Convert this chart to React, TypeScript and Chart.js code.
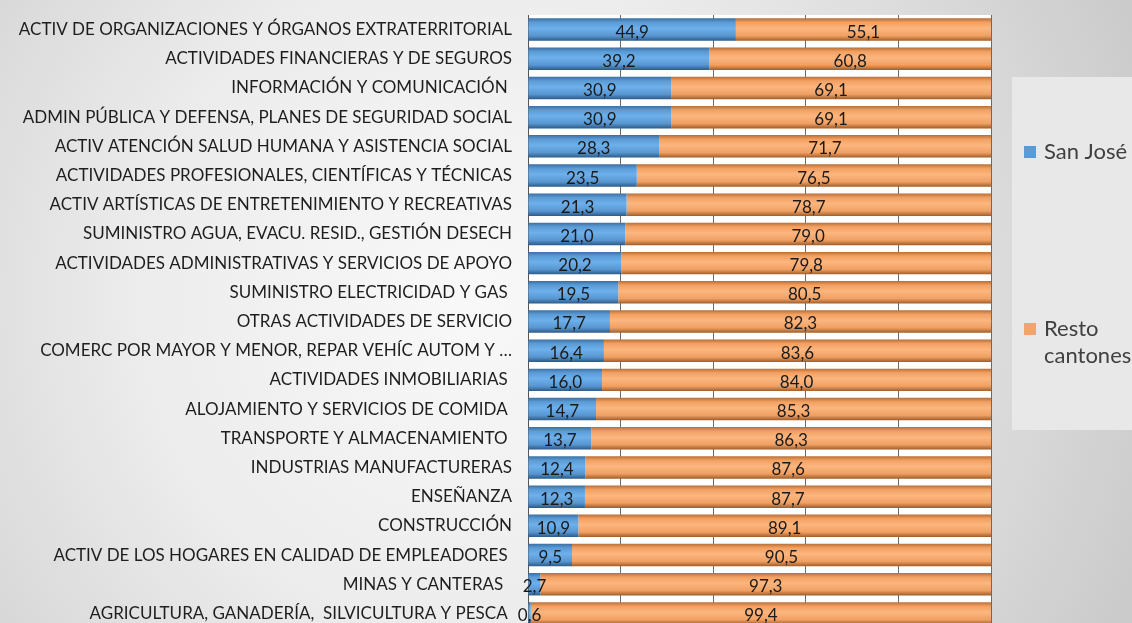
import React, { useEffect, useRef } from 'react';
import { Chart, registerables } from 'chart.js';

Chart.register(...registerables);

const categories = [
  'ACTIV DE ORGANIZACIONES Y ÓRGANOS EXTRATERRITORIAL',
  'ACTIVIDADES FINANCIERAS Y DE SEGUROS',
  'INFORMACIÓN Y COMUNICACIÓN ',
  'ADMIN PÚBLICA Y DEFENSA, PLANES DE SEGURIDAD SOCIAL',
  'ACTIV ATENCIÓN SALUD HUMANA Y ASISTENCIA SOCIAL',
  'ACTIVIDADES PROFESIONALES, CIENTÍFICAS Y TÉCNICAS',
  'ACTIV ARTÍSTICAS DE ENTRETENIMIENTO Y RECREATIVAS',
  'SUMINISTRO AGUA, EVACU. RESID., GESTIÓN DESECH',
  'ACTIVIDADES ADMINISTRATIVAS Y SERVICIOS DE APOYO',
  'SUMINISTRO ELECTRICIDAD Y GAS ',
  'OTRAS ACTIVIDADES DE SERVICIO',
  'COMERC POR MAYOR Y MENOR, REPAR VEHÍC AUTOM Y …',
  'ACTIVIDADES INMOBILIARIAS ',
  'ALOJAMIENTO Y SERVICIOS DE COMIDA ',
  'TRANSPORTE Y ALMACENAMIENTO ',
  'INDUSTRIAS MANUFACTURERAS',
  'ENSEÑANZA',
  'CONSTRUCCIÓN',
  'ACTIV DE LOS HOGARES EN CALIDAD DE EMPLEADORES ',
  'MINAS Y CANTERAS  ',
  'AGRICULTURA, GANADERÍA,  SILVICULTURA Y PESCA ',
];

const sanJose = [44.9, 39.2, 30.9, 30.9, 28.3, 23.5, 21.3, 21.0, 20.2, 19.5, 17.7, 16.4, 16.0, 14.7, 13.7, 12.4, 12.3, 10.9, 9.5, 2.7, 0.6];
const restoCantones = [55.1, 60.8, 69.1, 69.1, 71.7, 76.5, 78.7, 79.0, 79.8, 80.5, 82.3, 83.6, 84.0, 85.3, 86.3, 87.6, 87.7, 89.1, 90.5, 97.3, 99.4];

const seriesNames = ['San José', 'Resto cantones'];
const legendLines = [['San José'], ['Resto', 'cantones']];
const xMin = 0;
const xMax = 100;
const xStep = 20;

const BAR_PCT = 0.77;

const blueStops: [number, string][] = [
  [0, '#3a6fa3'],
  [0.18, '#5b9bd5'],
  [0.45, '#6db0ec'],
  [0.78, '#5896d0'],
  [1, '#2c5a88'],
];
const orangeStops: [number, string][] = [
  [0, '#b86e35'],
  [0.18, '#f2a061'],
  [0.45, '#fcb67f'],
  [0.78, '#f0a063'],
  [1, '#a05d28'],
];
const solidColors = ['#5b9bd5', '#f4a46a'];

function barGradient(stops: [number, string][], fallback: string) {
  return (ctx: any) => {
    const chart = ctx.chart;
    const y = chart.scales && chart.scales.y;
    if (!y || ctx.type !== 'data' || !isFinite(y.height) || y.height <= 0) return fallback;
    const c = y.getPixelForValue(ctx.dataIndex);
    const h = (y.height / categories.length) * BAR_PCT;
    const g = chart.ctx.createLinearGradient(0, c - h / 2, 0, c + h / 2);
    stops.forEach(([o, col]) => g.addColorStop(o, col));
    return g;
  };
}

const backgroundPlugin = {
  id: 'bgPlugin',
  beforeDraw(chart: any) {
    const { ctx, width, height, chartArea } = chart;
    ctx.save();
    const g = ctx.createRadialGradient(470, 300, 20, 470, 300, 720);
    g.addColorStop(0, '#f8f8f8');
    g.addColorStop(0.45, '#ececec');
    g.addColorStop(1, '#cbcbcb');
    ctx.fillStyle = g;
    ctx.fillRect(0, 0, width, height);
    // legend panel
    ctx.fillStyle = '#e8e8e8';
    ctx.fillRect(1012, 77, width - 1012, 353);
    // plot area
    ctx.fillStyle = '#ffffff';
    ctx.fillRect(chartArea.left, chartArea.top, chartArea.right - chartArea.left, chartArea.bottom - chartArea.top);
    ctx.restore();
  },
};

const labelPlugin = {
  id: 'valueLabels',
  afterDatasetsDraw(chart: any) {
    const { ctx } = chart;
    ctx.save();
    ctx.font = '17px Lato';
    ctx.fillStyle = '#1a1a1a';
    ctx.textAlign = 'center';
    ctx.textBaseline = 'middle';
    chart.data.datasets.forEach((ds: any, di: number) => {
      const meta = chart.getDatasetMeta(di);
      meta.data.forEach((el: any, i: number) => {
        const v = ds.data[i];
        const cx = (el.x + el.base) / 2;
        ctx.fillText(v.toFixed(1).replace('.', ','), cx, el.y + 2.5);
      });
    });
    ctx.restore();
  },
};

const legendPlugin = {
  id: 'customLegend',
  afterDraw(chart: any) {
    const { ctx } = chart;
    ctx.save();
    ctx.font = '22px Lato';
    ctx.textBaseline = 'middle';
    ctx.textAlign = 'left';
    const ys = [152, 329];
    legendLines.forEach((lines, i) => {
      ctx.fillStyle = solidColors[i];
      ctx.fillRect(1024, ys[i] - 6, 12, 12);
      ctx.fillStyle = '#404040';
      lines.forEach((t, j) => ctx.fillText(t, 1044, ys[i] + j * 27));
    });
    ctx.restore();
  },
};

export default function App() {
  const ref = useRef<HTMLCanvasElement | null>(null);
  useEffect(() => {
    if (!ref.current) return;
    const chart = new Chart(ref.current, {
      type: 'bar',
      data: {
        labels: categories,
        datasets: [
          {
            label: seriesNames[0],
            data: sanJose,
            backgroundColor: barGradient(blueStops, solidColors[0]),
            borderWidth: 0,
            barPercentage: BAR_PCT,
            categoryPercentage: 1,
          },
          {
            label: seriesNames[1],
            data: restoCantones,
            backgroundColor: barGradient(orangeStops, solidColors[1]),
            borderWidth: 0,
            barPercentage: BAR_PCT,
            categoryPercentage: 1,
          },
        ],
      },
      options: {
        indexAxis: 'y',
        responsive: false,
        animation: false,
        events: [],
        layout: { padding: { top: 15, right: 141, bottom: 0, left: 0 } },
        plugins: {
          legend: { display: false },
          tooltip: { enabled: false },
          title: { display: false },
        },
        scales: {
          x: {
            stacked: true,
            min: xMin,
            max: xMax,
            ticks: { display: false, stepSize: xStep },
            grid: { color: '#6a6a6a', lineWidth: 1, drawTicks: false },
            border: { display: false },
            afterFit: (s: any) => { s.height = 0; },
          },
          y: {
            stacked: true,
            ticks: {
              autoSkip: false,
              padding: 16,
              color: '#1e1e1e',
              font: { family: 'Lato', size: 17 },
            },
            grid: { display: false, drawTicks: false },
            border: { display: true, color: '#555555', width: 1 },
            afterFit: (s: any) => {
              s.width = 528;
              s.paddingTop = 0;
              s.paddingBottom = 0;
            },
          },
        },
      },
      plugins: [backgroundPlugin, labelPlugin, legendPlugin],
    });
    return () => chart.destroy();
  }, []);
  return (
    <div style={{ position: 'fixed', left: 0, top: 0, width: 1132, height: 628 }}>
      <canvas ref={ref} width={1132} height={628} style={{ display: 'block' }} />
    </div>
  );
}
